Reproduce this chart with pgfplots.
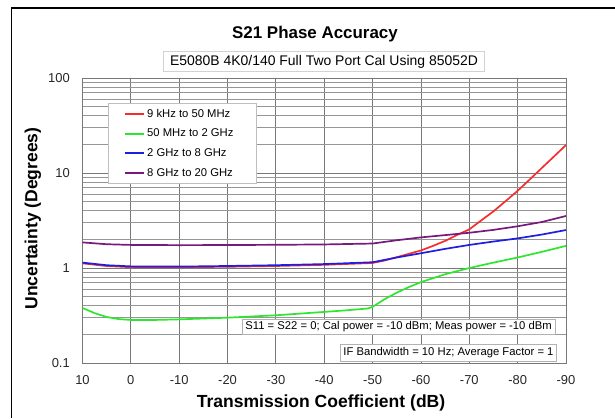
\documentclass[border=0pt]{standalone}
\usepackage{fontspec}
\setmainfont{Liberation Sans}
\usepackage{pgfplots}
\pgfplotsset{compat=1.18}
\definecolor{cred}{RGB}{245,45,45}
\definecolor{cgreen}{RGB}{45,230,45}
\definecolor{cblue}{RGB}{30,30,225}
\definecolor{cpurple}{RGB}{120,25,125}
\definecolor{gridc}{RGB}{120,120,120}
\definecolor{minorc}{RGB}{150,150,150}
\begin{document}
\begin{tikzpicture}[x=1bp,y=1bp]
\path[use as bounding box] (0,0) rectangle (615,418);
\draw[black, line width=1.2bp] (11.5,0) -- (11.5,410) -- (615,410);
\node[font=\fontsize{17}{20}\selectfont\bfseries, anchor=base] at (315,380) {S21 Phase Accuracy};
\node[draw=gray!35, fill=white, font=\fontsize{14}{16}\selectfont, inner xsep=6.5bp, inner ysep=3.5bp] at (324,356.5) {E5080B 4K0/140 Full Two Port Cal Using 85052D};
\begin{axis}[
  at={(82.5bp,55bp)}, anchor=south west,
  scale only axis, width=483.5bp, height=285bp,
  xmin=-90, xmax=10, x dir=reverse,
  ymode=log, ymin=0.1, ymax=100,
  xtick={10,0,-10,-20,-30,-40,-50,-60,-70,-80,-90},
  xticklabels={10,0,-10,-20,-30,-40,-50,-60,-70,-80,-90},
  ytick={0.1,1,10,100},
  yticklabels={0.1,1,10,100},
  tick style={draw=none},
  minor tick style={draw=none},
  xmajorgrids, ymajorgrids, yminorgrids,
  major grid style={gridc, line width=0.8bp},
  minor grid style={minorc, line width=0.8bp},
  axis line style={gridc, line width=0.8bp},
  ticklabel style={font=\fontsize{13}{15}\selectfont, text=black!85},
  /pgf/number format/assume math mode=true,
  yticklabel style={anchor=east, inner sep=0pt, xshift=-12.5bp},
  xticklabel style={anchor=north, inner sep=0pt, yshift=-12.7bp},
  legend style={at={(0.0527,0.912)}, anchor=north west, draw=gray!50, fill=white,
    font=\fontsize{11.3}{13}\selectfont, inner xsep=16bp, inner ysep=4bp, row sep=6.2bp},
  legend cell align=left,
  legend image code/.code={\draw[#1] plot coordinates {(0bp,0bp) (19bp,0bp)};},
  legend image post style={line width=2bp},
]
\addplot[color=cred, line width=1.7bp] coordinates {
(10,1.12) (5,1.05) (0,1.02) (-10,1.02) (-20,1.03) (-30,1.05) (-40,1.08) (-50,1.13)
(-52.5,1.20) (-55,1.30) (-57.5,1.41) (-60,1.53) (-62.5,1.71) (-65,1.93) (-67.5,2.23)
(-70,2.55) (-72.5,3.18) (-75,3.95) (-77.5,5.05) (-80,6.5) (-82.5,8.54) (-85,11.3)
(-87.5,14.9) (-90,19.7)};
\addlegendentry{9 kHz to 50 MHz}
\addplot[color=cgreen, line width=1.7bp] coordinates {
(10,0.38) (7.5,0.335) (5,0.305) (2.5,0.29) (0,0.284) (-5,0.284) (-10,0.288) (-20,0.30)
(-30,0.318) (-40,0.345) (-45,0.36) (-49,0.375) (-50,0.39) (-52.5,0.47) (-55,0.55)
(-57.5,0.63) (-60,0.71) (-65,0.86) (-70,1.00) (-75,1.14) (-80,1.29) (-85,1.48) (-90,1.71)};
\addlegendentry{50 MHz to 2 GHz}
\addplot[color=cblue, line width=1.7bp] coordinates {
(10,1.14) (5,1.07) (0,1.04) (-10,1.035) (-20,1.05) (-30,1.07) (-40,1.10) (-50,1.15)
(-55,1.29) (-60,1.43) (-65,1.59) (-70,1.75) (-75,1.90) (-80,2.05) (-85,2.25) (-90,2.51)};
\addlegendentry{2 GHz to 8 GHz}
\addplot[color=cpurple, line width=1.7bp] coordinates {
(10,1.86) (5,1.78) (0,1.75) (-10,1.74) (-20,1.745) (-30,1.755) (-40,1.77) (-50,1.81)
(-55,1.96) (-60,2.10) (-65,2.22) (-70,2.35) (-75,2.52) (-80,2.75) (-85,3.05) (-90,3.53)};
\addlegendentry{8 GHz to 20 GHz\hspace*{5bp}}
\end{axis}
\node[font=\fontsize{17.6}{20}\selectfont\bfseries, anchor=base] at (321,11) {Transmission Coefficient (dB)};
\node[font=\fontsize{17.6}{20}\selectfont\bfseries, anchor=base, rotate=90] at (37.3,199.5) {Uncertainty (Degrees)};
\node[draw=gray!60, fill=white, font=\fontsize{11.3}{13}\selectfont, anchor=east, inner xsep=3bp, inner ysep=2.5bp, text height=8.2bp, text depth=2.2bp] at (555,91.2) {S11 = S22 = 0; Cal power = -10 dBm; Meas power = -10 dBm};
\node[draw=gray!60, fill=white, font=\fontsize{11.3}{13}\selectfont, anchor=east, inner xsep=3bp, inner ysep=3bp, text height=8.2bp, text depth=2.2bp] at (556.7,65.3) {IF Bandwidth = 10 Hz; Average Factor = 1};
\end{tikzpicture}
\end{document}
